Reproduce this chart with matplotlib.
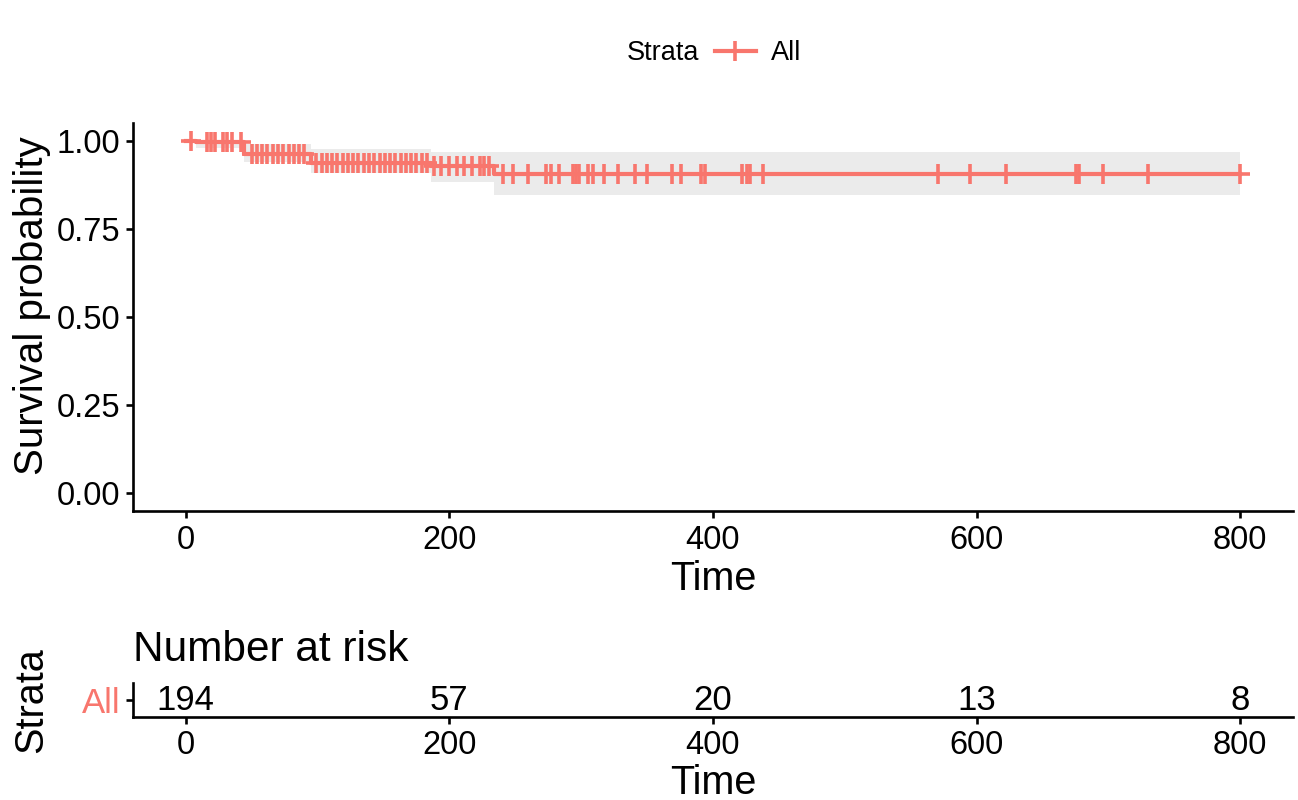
import numpy as np
import matplotlib.pyplot as plt
from matplotlib.lines import Line2D

plt.rcParams['font.family'] = ['Liberation Sans', 'DejaVu Sans']

# survival curve (Kaplan-Meier steps)
step_times = [0, 8, 44, 95, 186, 234, 800]
surv = [1.0, 0.995, 0.962, 0.938, 0.929, 0.905, 0.905]
lower = [1.0, 0.978, 0.94, 0.907, 0.883, 0.845, 0.845]
upper = [1.0, 1.0, 0.99, 0.975, 0.968, 0.967, 0.967]

# censored times (the "+" marks)
censor_times = [4, 16, 19, 22, 28, 31, 35, 42,
                50, 54, 58, 62, 66, 70, 74, 78, 82, 86, 90,
                99, 103, 107, 111, 115, 119, 123, 127, 131, 135, 139,
                143, 147, 151, 155, 159, 163, 167, 171, 175, 179, 183,
                188, 194, 200, 206, 211, 217, 223, 226, 230,
                241, 248, 260, 273, 277, 283, 294, 296, 298, 305, 309, 317,
                328, 341, 350, 369, 376, 391, 394, 422, 426, 428, 438,
                571, 595, 622, 675, 678, 696, 730, 800]

# number at risk table
risk_times = [0, 200, 400, 600, 800]
n_risk = [194, 57, 20, 13, 8]
strata = 'All'
red = '#F8766D'

W, H = 1298, 800
fig = plt.figure(figsize=(W / 100, H / 100), dpi=100)

# ---- survival plot
ax = fig.add_axes([133 / W, 1 - 511 / H, 1160 / W, 388 / H])
ax.fill_between(step_times, lower, upper, step='post', color='#EBEBEB', lw=0)
ax.step(step_times, surv, where='post', color=red, lw=3)
idx = np.searchsorted(step_times, censor_times, side='right') - 1
cens_y = np.array(surv)[idx]
ax.plot(censor_times, cens_y, ls='none', marker='+', ms=14, mew=2.6, color=red)

ax.set_xlim(-40, 840)
ax.set_ylim(-0.05, 1.05)
ax.set_xticks(risk_times)
ax.set_yticks([0, 0.25, 0.5, 0.75, 1.0])
ax.set_yticklabels(['0.00', '0.25', '0.50', '0.75', '1.00'])
for s in ['top', 'right']:
    ax.spines[s].set_visible(False)
for s in ['left', 'bottom']:
    ax.spines[s].set_linewidth(1.9)
ax.tick_params(length=5, width=1.9, labelsize=23.5, pad=4)
ax.tick_params(axis='x', pad=5)
ax.set_xlabel('Time', fontsize=28.5, va='top')
ax.xaxis.set_label_coords(0.5, -0.127)
ax.set_ylabel('Survival probability', fontsize=29)
ax.yaxis.set_label_coords(-0.071, 0.53)

# legend on top
fig.text(627 / W, 1 - 53 / H, 'Strata', fontsize=19.5, va='center', ha='left')
handle = Line2D([], [], color=red, lw=3, marker='+', ms=14, mew=2.6)
fig.legend([handle], [strata], loc='center left', bbox_to_anchor=(715 / W, 1 - 53 / H),
           frameon=False, fontsize=19.5, handlelength=1.5, handletextpad=0.55,
           borderpad=0, borderaxespad=0, numpoints=1)

# ---- risk table
axr = fig.add_axes([133 / W, 1 - 717 / H, 1160 / W, 34 / H])
axr.set_xlim(-40, 840)
axr.set_ylim(0, 1)
for t, n in zip(risk_times, n_risk):
    axr.text(t, 0.5, str(n), ha='center', va='center', fontsize=25)
axr.set_xticks(risk_times)
axr.set_yticks([0.5])
axr.set_yticklabels([strata], color=red)
for s in ['top', 'right']:
    axr.spines[s].set_visible(False)
for s in ['left', 'bottom']:
    axr.spines[s].set_linewidth(1.9)
axr.tick_params(length=5, width=1.9, labelsize=23.5, pad=4)
axr.tick_params(axis='y', labelsize=25)
axr.set_title('Number at risk', loc='left', fontsize=30.5, pad=16)
axr.set_xlabel('Time', fontsize=28.5, va='top')
axr.xaxis.set_label_coords(0.5, -1.38)
axr.set_ylabel('Strata', fontsize=28.5)
axr.yaxis.set_label_coords(-0.071, 0.5)

fig.savefig('out.png', dpi=100)
